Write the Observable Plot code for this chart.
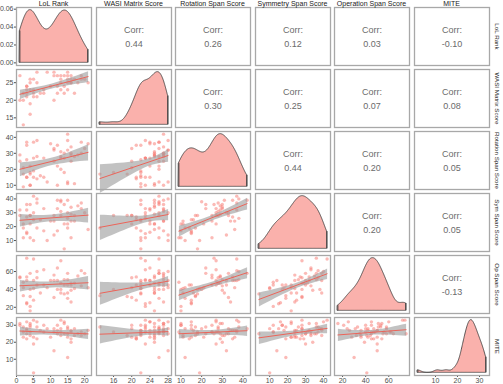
<!DOCTYPE html>
<html><head><meta charset="utf-8">
<script src="https://cdn.jsdelivr.net/npm/d3@7"></script>
<script src="https://cdn.jsdelivr.net/npm/@observablehq/plot@0.6"></script>
<style>
body{margin:0;background:#fff;}
#wrap{position:relative;width:503px;height:384px;overflow:hidden;background:#fff;font-family:"Liberation Sans",Arial,sans-serif;}
.panel{position:absolute;}
.strip{position:absolute;font-size:7px;line-height:8px;color:#1a1a1a;white-space:nowrap;text-align:center;}
.rstrip{font-size:6.2px;line-height:7px;}
</style></head><body><div id="wrap"></div>
<script>
// ---- labels ----
const topLabels = ["LoL Rank","WASI Matrix Score","Rotation Span Score","Symmetry Span Score","Operation Span Score","MITE"];
const rightLabels = ["LoL Rank","WASI Matrix Score","Rotation Span Score","Sym Span Score","Op Span Score","MITE"];
// upper-triangle correlation labels, row by row
const corrValues = ["0.44","0.26","0.12","0.03","-0.10","0.30","0.25","0.07","0.08","0.44","0.20","0.05","0.20","0.05","-0.13"];
// tick values per variable
const ticksLoL = [0,5,10,15,20];
const ticksWASI = [16,20,24,28];
const ticksWASIy = [15,20,25];
const ticksRot = [10,20,30,40];
const ticksSym = [10,20,30,40];
const ticksOp = [20,40,60];
const ticksMITE = [10,20,30];
const ticksDensity = [0,0.02,0.04,0.06];
// ---- data (one entry per participant) ----
const lolRank = [1,1,2,2,2,3,3,3,3,3,4,4,4,4,4,5,5,5,5,6,6,6,7,8,8,9,10,11,11,11,12,12,12,13,13,13,13,14,14,14,15,15,15,15,15,16,16,16,16,17,17,18,19,19,20,21];
const wasi    = [27,20,20,13,22,21,23,22,24,24,19,23,16,26,25,21,26,23,22,28,25,21,22,23,22,28,24,28,20,27,27,24,22,23,27,25,26,24,27,22,27,26,25,23,28,25,25,27,26,22,26,25,26,27,26,25];
const rotSpan = [29,25,21,17,9,35,15,26,15,37,17,10,18,22,10,15,37,27,19,38,28,14,16,27,15,12,36,32,33,25,10,22,35,27,28,31,20,27,30,18,42,12,11,38,32,29,30,34,25,11,28,29,37,30,33,36];
const symSpan = [32,28,22,19,12,27,15,36,16,32,28,12,28,36,22,25,42,30,10,40,37,19,25,33,17,10,24,14,28,24,17,33,39,28,31,39,38,22,36,4,39,19,22,26,30,29,34,24,12,24,28,35,37,33,30,18];
const opSpan  = [54,53,42,33,48,54,24,75,25,50,32,21,40,58,16,28,74,50,41,60,53,45,36,62,45,42,50,50,31,56,40,64,50,72,47,36,40,45,51,35,58,30,36,51,45,47,39,26,45,41,47,55,61,44,58,42];
const mite    = [31,30,23,29,26,22,28,25,32,27,24,30,26,29,31,23,33,19,2,32,29,22,27,26,30,28,23,15,28,26,30,25,27,33,26,24,28,32,31,25,28,11,23,29,25,22,20,27,26,24,28,25,26,24,25,27];

const vars = [lolRank, wasi, rotSpan, symSpan, opSpan, mite];
const xTickSets = [ticksLoL, ticksWASI, ticksRot, ticksSym, ticksOp, ticksMITE];
const yTickSets = [ticksDensity, ticksWASIy, ticksRot, ticksSym, ticksOp, ticksMITE];

const rows = lolRank.map((d,k)=>({v: vars.map(a=>a[k])}));

function expand([a,b]){ const e=(b-a)*0.05; return [a-e,b+e]; }
function nrd0(x){
  const s = x.slice().sort(d3.ascending);
  const sd = d3.deviation(s);
  const iqr = d3.quantile(s,0.75)-d3.quantile(s,0.25);
  let lo = Math.min(sd, iqr/1.34); if(!lo) lo = sd || 1;
  return 0.9*lo*Math.pow(s.length,-0.2);
}
function kde(x){
  const bw = nrd0(x); const [a,b] = d3.extent(x);
  return d3.range(0,257).map(i=>{
    const t = a+(b-a)*i/256;
    return {x:t, y:d3.mean(x, v=>Math.exp(-0.5*((t-v)/bw)**2))/(bw*Math.sqrt(2*Math.PI))};
  });
}

const wrap = document.getElementById("wrap");
const PW = 75, PH = 58, X0 = 16, Y0 = 7, DX = 79.6, DY = 62, ML = 16, MB = 9;
const pink = "#F8766D";
let ci = 0;
for(let i=0;i<6;i++){
  for(let j=0;j<6;j++){
    const left = Math.round(X0 + j*DX), top = Math.round(Y0 + i*DY);
    const ml = j===0 ? ML : 0, mb = i===5 ? MB : 0;
    const xd = expand(d3.extent(vars[j]));
    let yd, marks = [];
    if(i===j){
      const dens = kde(vars[j]);
      const m = d3.max(dens, d=>d.y);
      yd = [-0.05*m, 1.05*m];
      marks.push(Plot.areaY(dens, {x:"x", y:"y", fill:"#FAB1AC", stroke:"#333", strokeWidth:0.8}));
      marks.push(Plot.ruleX([0, dens.length-1], {x: k=>dens[k].x, y1:0, y2: k=>dens[k].y, stroke:"#333", strokeWidth:0.8}));
    } else if(i>j){
      yd = expand(d3.extent(vars[i]));
      marks.push(Plot.dot(rows, {x:d=>d.v[j], y:d=>d.v[i], r:1.7, fill:pink, fillOpacity:0.5, stroke:null}));
      marks.push(Plot.linearRegressionY(rows, {x:d=>d.v[j], y:d=>d.v[i], stroke:"#EC6459", strokeWidth:1, fill:"#9a9a9a", fillOpacity:0.6}));
    } else {
      yd = expand(d3.extent(vars[i]));
      const val = corrValues[ci++];
      marks.push(Plot.text(["Corr:"], {frameAnchor:"middle", dy:-6, fontSize:9, fill:"#6b6b6b"}));
      marks.push(Plot.text([val], {frameAnchor:"middle", dy:8, fontSize:9, fill:"#6b6b6b"}));
    }
    marks.push(Plot.frame({stroke:"#a8a8a8", strokeWidth:1.3}));
    const yIsDensity = (i===0);
    const p = Plot.plot({
      width: PW+ml, height: PH+mb,
      marginLeft: ml, marginBottom: mb, marginTop:0, marginRight:0,
      style:{fontSize:"7px", color:"#4d4d4d", fontFamily:'"Liberation Sans",Arial,sans-serif', background:"transparent", overflow:"visible"},
      x:{domain:xd, axis: i===5 ? "bottom" : null, ticks: xTickSets[j], tickSize:2, tickPadding:1, label:null},
      y:{domain:yd, axis: j===0 ? "left" : null, ticks: yTickSets[i], tickSize:2, tickPadding:1, label:null,
         tickFormat: yIsDensity ? d3.format(".2f") : d3.format("d")},
      marks
    });
    const div = document.createElement("div");
    div.className = "panel";
    div.style.left = (left-ml)+"px"; div.style.top = top+"px";
    div.appendChild(p);
    wrap.appendChild(div);
  }
}
// strips
for(let j=0;j<6;j++){
  const d = document.createElement("div");
  d.className="strip";
  d.textContent = topLabels[j];
  d.style.left = (Math.round(X0+j*DX))+"px"; d.style.width = PW+"px";
  d.style.top = "0px";
  wrap.appendChild(d);
}
for(let i=0;i<6;i++){
  const d = document.createElement("div");
  d.className="strip rstrip";
  d.textContent = rightLabels[i];
  const cy = Math.round(Y0+i*DY)+PH/2;
  d.style.width = "60px";
  d.style.left = (497-30)+"px"; d.style.top = (cy-3.5)+"px";
  d.style.transform = "rotate(90deg)";
  wrap.appendChild(d);
}
</script></body></html>
